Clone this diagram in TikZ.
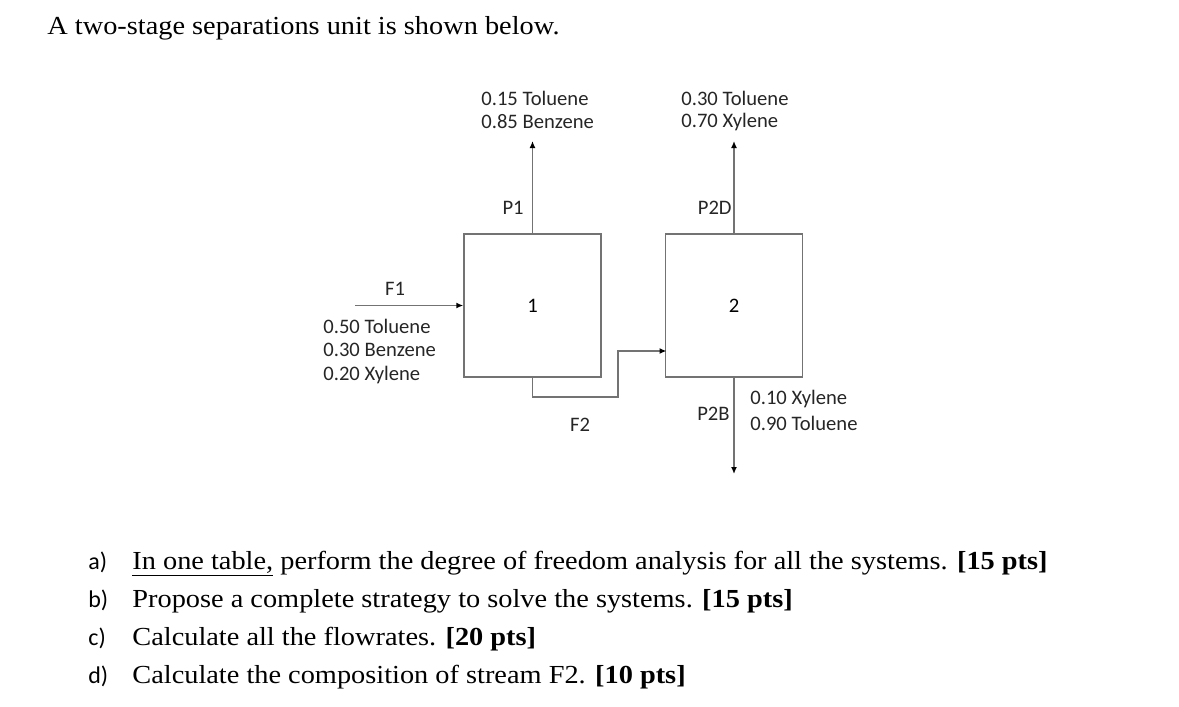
\documentclass[tikz,border=0pt]{standalone}
\usepackage{fontspec}
\setmainfont[FakeStretch=1.09]{Liberation Serif}
\newfontfamily\calibri{Carlito}
\usetikzlibrary{arrows.meta}

\newcommand{\picfont}{\calibri\fontsize{10.3}{12}\selectfont}
\newcommand{\qfont}{\fontsize{13}{15}\selectfont}

\tikzset{
    unitbox/.style={draw=black!55, line width=0.7pt, minimum width=68.5pt, minimum height=71.5pt, inner sep=0pt, font=\picfont},
    stream/.style={draw=black!55, line width=0.7pt, -{Latex[length=3.5pt,width=3pt,black]}},
    lbl/.style={inner sep=0pt, font=\picfont, text=black!85},
    qtext/.style={inner sep=0pt, anchor=base west, font=\qfont},
    qmark/.style={inner sep=0pt, anchor=base west, font=\calibri\fontsize{12}{14}\selectfont}
}

\begin{document}
\begin{tikzpicture}[x=0.5pt, y=-0.5pt]
    \useasboundingbox (0,0) rectangle (1179,707);

    % Heading.
    \node[qtext] (title) at (47,34) {A two-stage separations unit is shown below.};

    % Units.
    \node[unitbox] (u1) at (532.5,305.5) {1};
    \node[unitbox] (u2) at (734,305.5) {2};

    % Stream ends.
    \coordinate (f1in)  at (355,305.5);
    \coordinate (p1out) at (532.5,141);
    \coordinate (p2dout) at (734,141);
    \coordinate (p2bout) at (734,474);
    \coordinate (f2a) at (618,397);
    \coordinate (f2b) at (666.5,351);

    % Streams.
    \draw [stream] (f1in) -- (u1.west);
    \draw [stream] (u1.north) -- (p1out);
    \draw [stream] (u2.north) -- (p2dout);
    \draw [stream] (u2.south) -- (p2bout);
    \draw [stream] (u1.south) |- (f2a) |- (f2b);

    % Stream names.
    \node[lbl] (nf1) at (395,289) {F1};
    \node[lbl, anchor=east] (np1) at (524,208) {P1};
    \node[lbl, anchor=east] (np2d) at (732,208) {P2D};
    \node[lbl] (nf2) at (580,425) {F2};
    \node[lbl, anchor=east] (np2b) at (730,414) {P2B};

    % Compositions.
    \node[lbl, anchor=west] (cf1a) at (323,326) {0.50 Toluene};
    \node[lbl, anchor=west] (cf1b) at (323,350) {0.30 Benzene};
    \node[lbl, anchor=west] (cf1c) at (323,375) {0.20 Xylene};
    \node[lbl, anchor=west] (cp1a) at (481,98) {0.15 Toluene};
    \node[lbl, anchor=west] (cp1b) at (481,122) {0.85 Benzene};
    \node[lbl, anchor=west] (cp2da) at (681,98) {0.30 Toluene};
    \node[lbl, anchor=west] (cp2db) at (681,122) {0.70 Xylene};
    \node[lbl, anchor=west] (cp2ba) at (750,399) {0.10 Xylene};
    \node[lbl, anchor=west] (cp2bb) at (750,423) {0.90 Toluene};

    % Questions.
    \node[qmark] (qa) at (88,569) {a)};
    \node[qmark] (qb) at (88,607) {b)};
    \node[qmark] (qc) at (88,645) {c)};
    \node[qmark] (qd) at (88,683) {d)};
    \node[qtext] (ta) at (132,569) {\underline{In one table,} perform the degree of freedom analysis for all the systems. \textbf{[15 pts]}};
    \node[qtext] (tb) at (132,607) {Propose a complete strategy to solve the systems. \textbf{[15 pts]}};
    \node[qtext] (tc) at (132,645) {Calculate all the flowrates. \textbf{[20 pts]}};
    \node[qtext] (td) at (132,683) {Calculate the composition of stream F2. \textbf{[10 pts]}};
\end{tikzpicture}
\end{document}
